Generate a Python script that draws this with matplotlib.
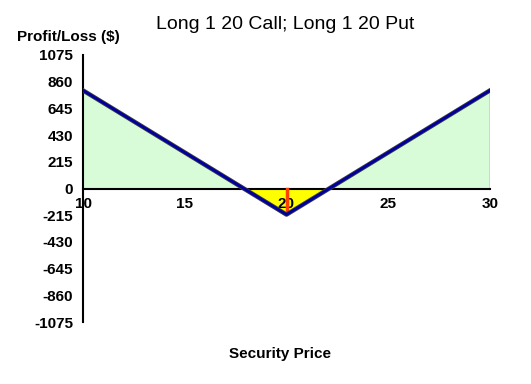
import numpy as np
import matplotlib.pyplot as plt

# Straddle: Long 1 20 Call; Long 1 20 Put
strike = 20
cost = 210
prices = np.array([10, 15, 17.9, 20, 22.1, 25, 30])
pnl = np.array([790, 290, 0, -210, 0, 290, 790])
x_ticks = [10, 15, 20, 25, 30]
y_ticks = [1075, 860, 645, 430, 215, 0, -215, -430, -645, -860, -1075]

fnt = ['Liberation Sans Narrow', 'Liberation Sans', 'DejaVu Sans']
plt.rcParams['font.family'] = fnt

fig = plt.figure(figsize=(5.31, 3.84), dpi=100)
ax = fig.add_axes([83/531, 1-322/384, (490-83)/531, (322-55)/384])

ax.fill_between(prices, pnl, 0, where=pnl >= 0, color='#d8fcd8', interpolate=True, lw=0)
ax.fill_between(prices, pnl, 0, where=pnl <= 0, color='#ffff00', interpolate=True, lw=0)
ax.plot([30, 30], [0, 790], color='#2e8b57', lw=1)
ax.plot([strike, strike], [0, -200], color='#ff4000', lw=2.5, zorder=4)
ax.plot(prices, pnl, color='#404040', lw=3.2, zorder=5)
ax.plot(prices, pnl, color='#0000a0', lw=2, zorder=6)

for s in ['top', 'right']:
    ax.spines[s].set_visible(False)
ax.spines['bottom'].set_position(('data', 0))
ax.spines['bottom'].set_linewidth(1.5)
ax.spines['bottom'].set_zorder(3)
ax.spines['left'].set_linewidth(1.5)
ax.set_facecolor('none')

ax.set_xlim(10, 30)
ax.set_ylim(-1075, 1075)
ax.set_yticks(y_ticks)
ax.set_yticklabels([str(v) for v in y_ticks], fontsize=11, fontweight='bold')
ax.set_xticks(x_ticks)
ax.set_xticklabels([str(v) for v in x_ticks], fontsize=11, fontweight='bold')
ax.tick_params(axis='both', length=0)
ax.tick_params(axis='y', pad=7)
ax.tick_params(axis='x', pad=6)

fig.text(0.537, 0.935, 'Long 1 20 Call; Long 1 20 Put', ha='center', va='center', fontsize=14)
fig.text(0.128, 0.903, 'Profit/Loss ($)', ha='center', va='center', fontsize=11, fontweight='bold')
fig.text(0.528, 0.077, 'Security Price', ha='center', va='center', fontsize=11, fontweight='bold')

fig.savefig('out.png', dpi=100)
